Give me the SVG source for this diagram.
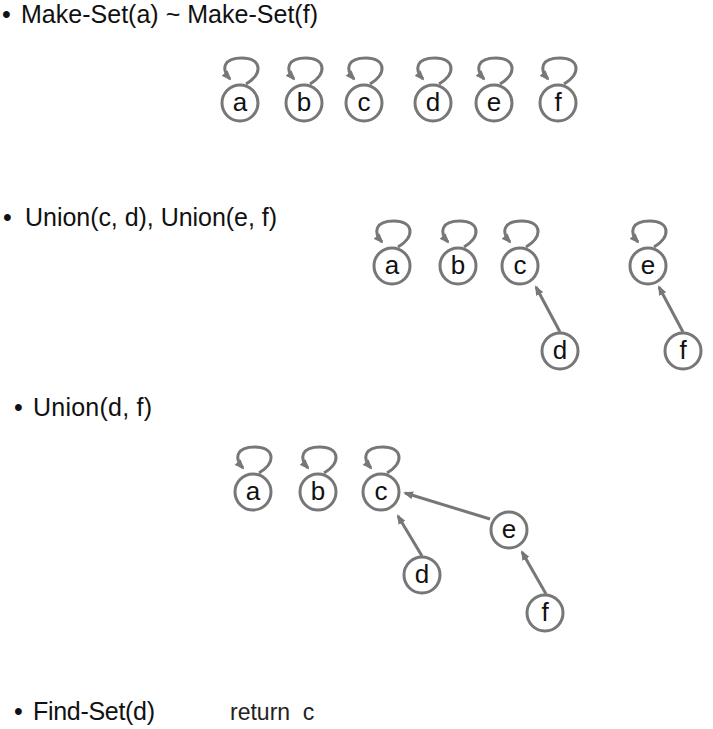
<svg xmlns="http://www.w3.org/2000/svg" xmlns:xlink="http://www.w3.org/1999/xlink" width="713" height="729" viewBox="0 0 713 729">
<style>
.bg{fill:#ffffff}
.node circle{fill:#ffffff;stroke:#777777;stroke-width:3}
.node text{font-family:"Liberation Sans",Arial,sans-serif;font-size:26px;fill:#111111;text-anchor:middle}
.edge{fill:none;stroke:#777777;stroke-width:3;marker-end:url(#arr)}
.title{font-family:"Liberation Sans",Arial,sans-serif;font-size:25px;fill:#111111}
.ret{font-family:"Liberation Sans",Arial,sans-serif;font-size:23px;fill:#222222}
</style>
<defs>
<marker id="arr" viewBox="0 0 10 8" refX="8" refY="4" markerWidth="10" markerHeight="8" markerUnits="userSpaceOnUse" orient="auto">
<path d="M0,0 L10,4 L0,8 z" fill="#777777"/>
</marker>
<path id="loop" class="edge" d="M6,-19 C24,-30 21,-45 2,-45 C-17,-45 -19,-34 -10,-24"/>
</defs>
<rect class="bg" x="0" y="0" width="713" height="729"/>

<g id="titles">
<text class="title" x="2" y="23">•</text>
<text class="title" x="21" y="23" textLength="297" lengthAdjust="spacing">Make-Set(a) ~ Make-Set(f)</text>
<text class="title" x="3" y="226">•</text>
<text class="title" x="25" y="226" textLength="252" lengthAdjust="spacing">Union(c, d), Union(e, f)</text>
<text class="title" x="14" y="416">•</text>
<text class="title" x="33" y="416" textLength="119" lengthAdjust="spacing">Union(d, f)</text>
<text class="title" x="14" y="720">•</text>
<text class="title" x="33" y="720" textLength="122" lengthAdjust="spacing">Find-Set(d)</text>
<text class="ret" x="230" y="720" xml:space="preserve">return  c</text>
</g>

<g id="connectors">
<use xlink:href="#loop" href="#loop" x="240" y="103"/>
<use xlink:href="#loop" href="#loop" x="304" y="103"/>
<use xlink:href="#loop" href="#loop" x="364" y="103"/>
<use xlink:href="#loop" href="#loop" x="433" y="103"/>
<use xlink:href="#loop" href="#loop" x="494" y="103"/>
<use xlink:href="#loop" href="#loop" x="558" y="103"/>

<use xlink:href="#loop" href="#loop" x="392" y="266"/>
<use xlink:href="#loop" href="#loop" x="458" y="266"/>
<use xlink:href="#loop" href="#loop" x="520" y="266"/>
<use xlink:href="#loop" href="#loop" x="648" y="266"/>
<path class="edge" d="M560,332 L536,287"/>
<path class="edge" d="M683,332 L659,287"/>

<use xlink:href="#loop" href="#loop" x="253" y="492"/>
<use xlink:href="#loop" href="#loop" x="318" y="492"/>
<use xlink:href="#loop" href="#loop" x="381" y="492"/>
<path class="edge" d="M490,519 L405,493"/>
<path class="edge" d="M422,556 L398,516"/>
<path class="edge" d="M546,594 L522,552"/>
</g>

<g id="n1-a" class="node"><circle cx="240" cy="103" r="18"/><text x="240" y="111">a</text></g>
<g id="n1-b" class="node"><circle cx="304" cy="103" r="18"/><text x="304" y="111">b</text></g>
<g id="n1-c" class="node"><circle cx="364" cy="103" r="18"/><text x="364" y="111">c</text></g>
<g id="n1-d" class="node"><circle cx="433" cy="103" r="18"/><text x="433" y="111">d</text></g>
<g id="n1-e" class="node"><circle cx="494" cy="103" r="18"/><text x="494" y="111">e</text></g>
<g id="n1-f" class="node"><circle cx="558" cy="103" r="18"/><text x="558" y="111">f</text></g>

<g id="n2-a" class="node"><circle cx="392" cy="266" r="18"/><text x="392" y="274">a</text></g>
<g id="n2-b" class="node"><circle cx="458" cy="266" r="18"/><text x="458" y="274">b</text></g>
<g id="n2-c" class="node"><circle cx="520" cy="266" r="18"/><text x="520" y="274">c</text></g>
<g id="n2-e" class="node"><circle cx="648" cy="266" r="18"/><text x="648" y="274">e</text></g>
<g id="n2-d" class="node"><circle cx="560" cy="351" r="18"/><text x="560" y="359">d</text></g>
<g id="n2-f" class="node"><circle cx="683" cy="351" r="18"/><text x="683" y="359">f</text></g>

<g id="n3-a" class="node"><circle cx="253" cy="492" r="18"/><text x="253" y="500">a</text></g>
<g id="n3-b" class="node"><circle cx="318" cy="492" r="18"/><text x="318" y="500">b</text></g>
<g id="n3-c" class="node"><circle cx="381" cy="492" r="18"/><text x="381" y="500">c</text></g>
<g id="n3-e" class="node"><circle cx="509" cy="530" r="18"/><text x="509" y="538">e</text></g>
<g id="n3-d" class="node"><circle cx="422" cy="575" r="18"/><text x="422" y="583">d</text></g>
<g id="n3-f" class="node"><circle cx="545" cy="613" r="18"/><text x="545" y="621">f</text></g>
</svg>
